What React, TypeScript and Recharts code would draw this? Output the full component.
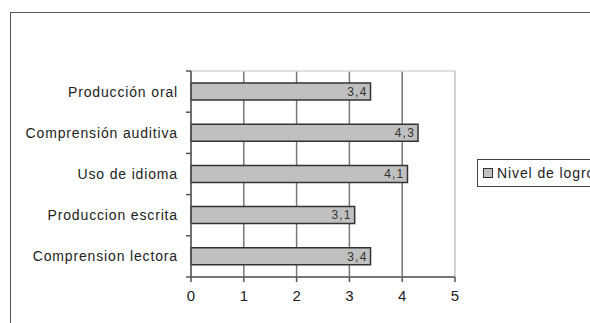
import React from "react";
import {
  Bar,
  XAxis,
  YAxis,
  Legend,
  BarChart,
  LabelList,
  CartesianGrid,
  ReferenceLine,
  ReferenceArea,
} from "recharts";

// skill areas, bottom to top as they appear on the chart
const skills = [
  "Producción oral",
  "Comprensión auditiva",
  "Uso de idioma",
  "Produccion escrita",
  "Comprension lectora",
];
const logro = [3.4, 4.3, 4.1, 3.1, 3.4];
const xTicks = [0, 1, 2, 3, 4, 5];
const seriesName = "Nivel de logro";

const data = skills.map((name, i) => ({ name, logro: logro[i] }));

const FONT = "'Liberation Sans', Arial, sans-serif";
const TICK_SIZE = 5;
const TICK_MARGIN = 8;
const PLOT_TOP = 71;
const PLOT_BOTTOM = 277;
const BAND = (PLOT_BOTTOM - PLOT_TOP) / skills.length;

// category label plus the small tick marks between categories
function SkillTick(props: any) {
  const { x, y, payload, index } = props;
  const axisX = x + TICK_SIZE + TICK_MARGIN;
  const top = y - BAND / 2;
  return (
    <g>
      <line x1={axisX - TICK_SIZE} x2={axisX} y1={top} y2={top} stroke="#555" strokeWidth={1.5} />
      {index === skills.length - 1 && (
        <line
          x1={axisX - TICK_SIZE}
          x2={axisX}
          y1={y + BAND / 2}
          y2={y + BAND / 2}
          stroke="#555"
          strokeWidth={1.5}
        />
      )}
      <text
        x={x}
        y={y}
        dy="0.35em"
        textAnchor="end"
        fontSize={14}
        letterSpacing={0.85}
        fill="#222"
        fontFamily={FONT}
      >
        {payload.value}
      </text>
    </g>
  );
}

function LegendBox() {
  return (
    <div
      style={{
        display: "flex",
        alignItems: "center",
        height: 28,
        width: 160,
        border: "1.5px solid #444",
        background: "#fff",
        boxSizing: "border-box",
        paddingLeft: 5,
        fontFamily: FONT,
        fontSize: 14,
        letterSpacing: 0.9,
        color: "#222",
        whiteSpace: "nowrap",
      }}
    >
      <span
        style={{
          display: "inline-block",
          width: 8,
          height: 8,
          background: "#c0c0c0",
          border: "1.5px solid #333",
          marginRight: 4,
        }}
      />
      {seriesName}
    </div>
  );
}

export default function App() {
  return (
    <div
      style={{
        position: "absolute",
        left: 0,
        top: 0,
        width: 590,
        height: 323,
        overflow: "hidden",
        background: "#fff",
      }}
    >
      <div
        style={{
          position: "absolute",
          left: 10,
          top: 12,
          width: 700,
          height: 400,
          borderLeft: "1.5px solid #555",
          borderTop: "1.5px solid #555",
        }}
      />
      <div style={{ position: "absolute", left: 0, top: 0 }}>
        <BarChart
          width={590}
          height={323}
          data={data}
          layout="vertical"
          margin={{ top: PLOT_TOP, right: 135, left: 16, bottom: 16 }}
        >
          <CartesianGrid horizontal={false} stroke="#777" strokeWidth={1.5} />
          <ReferenceArea x1={0} x2={5} fill="none" stroke="#d6d6d6" strokeWidth={1.5} ifOverflow="visible" />
          <ReferenceLine x={5} stroke="#d6d6d6" strokeWidth={1.5} />
          <XAxis
            type="number"
            domain={[0, 5]}
            ticks={xTicks}
            height={30}
            tickSize={TICK_SIZE}
            tickMargin={8}
            stroke="#555"
            strokeWidth={1.5}
            tick={{ fill: "#222", fontSize: 15, fontFamily: FONT }}
          />
          <YAxis
            type="category"
            dataKey="name"
            width={175}
            tickSize={TICK_SIZE}
            tickMargin={TICK_MARGIN}
            tickLine={false}
            stroke="#555"
            strokeWidth={1.5}
            tick={<SkillTick />}
            interval={0}
          />
          <Legend
            layout="vertical"
            align="center"
            verticalAlign="middle"
            wrapperStyle={{ left: 477, top: 159, width: 160 }}
            content={() => <LegendBox />}
          />
          <Bar
            dataKey="logro"
            name={seriesName}
            fill="#c0c0c0"
            stroke="#333"
            strokeWidth={1.5}
            barSize={17}
            isAnimationActive={false}
          >
            <LabelList
              dataKey="logro"
              position="insideRight"
              offset={3}
              formatter={(v: any) => String(v).replace(".", ",")}
              style={{ fill: "#333", fontSize: 12, letterSpacing: 1.2, fontFamily: FONT }}
            />
          </Bar>
        </BarChart>
      </div>
    </div>
  );
}
